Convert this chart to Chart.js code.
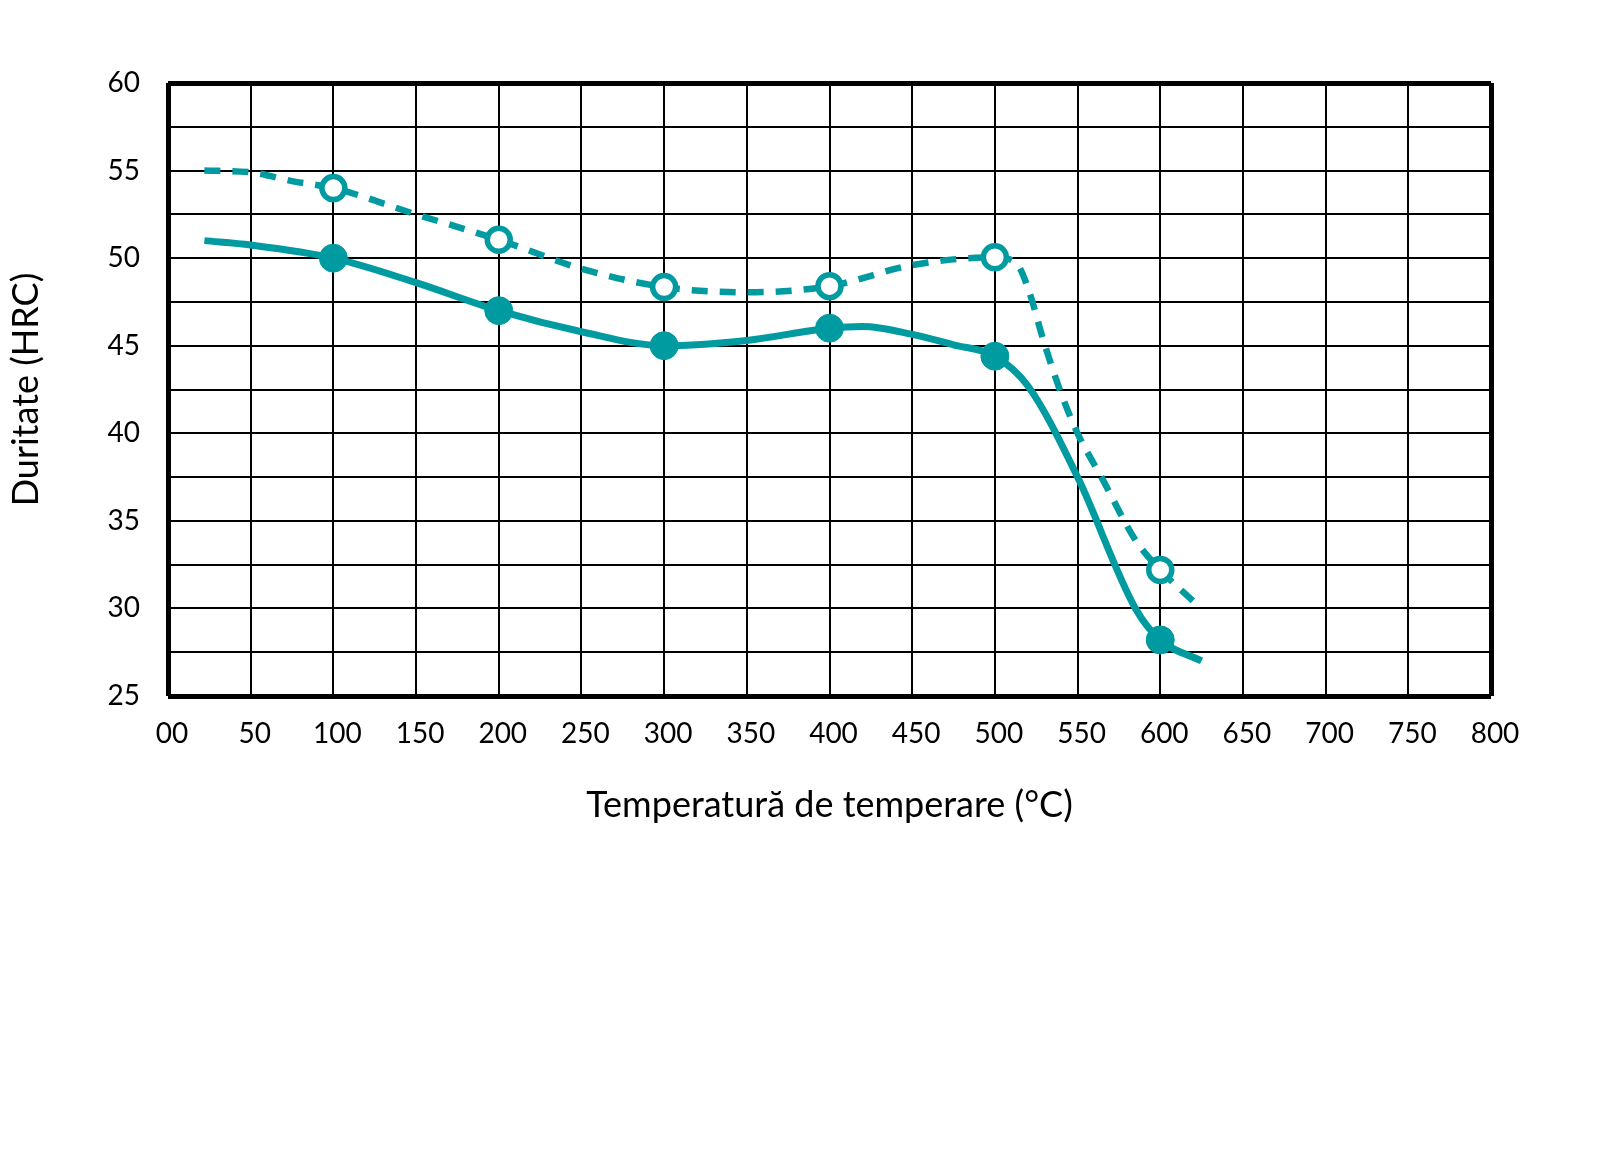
<!DOCTYPE html>
<html>
<head>
<meta charset="utf-8">
<script src="https://cdn.jsdelivr.net/npm/chart.js@4/dist/chart.umd.min.js"></script>
<style>
  html, body { margin: 0; padding: 0; background: #ffffff; }
  #wrap { width: 1621px; height: 1171px; position: relative; }
</style>
</head>
<body>
<div id="wrap"><canvas id="c"></canvas></div>
<script>
// Values
const solidTemps = [22, 50, 100, 150, 200, 250, 300, 350, 400, 420, 450, 475, 500, 520, 550, 585, 600, 625];
const solidHRC   = [51.0, 50.75, 50.0, 48.6, 47.0, 45.8, 45.0, 45.3, 46.0, 46.1, 45.65, 45.05, 44.4, 42.7, 37.5, 30.0, 28.2, 27.0];

const dashedTemps = [22, 50, 75, 100, 150, 200, 250, 300, 350, 400, 450, 500, 513, 520, 530, 540, 550, 565, 585, 600, 620];
const dashedHRC   = [55.0, 54.9, 54.4, 54.0, 52.5, 51.05, 49.4, 48.35, 48.05, 48.4, 49.6, 50.05, 49.7, 48.3, 45.1, 42.3, 40.0, 37.4, 33.9, 32.2, 30.4];

const markerTemps = [100, 200, 300, 400, 500, 600];

const xTickMin = 0, xTickMax = 800, xTickStep = 50;
const yTickMin = 25, yTickMax = 60, yTickStep = 2.5, yLabelStep = 5;

const xTitle = 'Temperatură de temperare (°C)';
const yTitle = 'Duritate (HRC)';

const TEAL = '#009ba1';
const FONT = 'Lato, "Open Sans", sans-serif';

function pts(xs, ys) { return xs.map((x, i) => ({ x: x, y: ys[i] })); }
function isMarker(ctx) {
  const raw = ctx.raw;
  return raw && markerTemps.includes(raw.x);
}

const chart = new Chart(document.getElementById('c'), {
  type: 'line',
  data: {
    datasets: [
      {
        label: 'dashed',
        data: pts(dashedTemps, dashedHRC),
        borderColor: TEAL,
        borderWidth: 6.5,
        borderDash: [16, 12],
        borderCapStyle: 'butt',
        cubicInterpolationMode: 'monotone',
        fill: false,
        pointRadius: ctx => isMarker(ctx) ? 11.5 : 0,
        pointBorderWidth: 5.5,
        pointBorderColor: TEAL,
        pointBackgroundColor: '#ffffff',
        pointHoverRadius: 0
      },
      {
        label: 'solid',
        data: pts(solidTemps, solidHRC),
        borderColor: TEAL,
        borderWidth: 7,
        cubicInterpolationMode: 'monotone',
        fill: false,
        pointRadius: ctx => isMarker(ctx) ? 14 : 0,
        pointBorderWidth: 1,
        pointBorderColor: TEAL,
        pointBackgroundColor: TEAL,
        pointHoverRadius: 0
      }
    ]
  },
  options: {
    responsive: true,
    maintainAspectRatio: false,
    animation: false,
    events: [],
    layout: { padding: { left: 0, top: 83, right: 130, bottom: 344 } },
    plugins: { legend: { display: false }, tooltip: { enabled: false } },
    scales: {
      x: {
        type: 'linear',
        min: xTickMin, max: xTickMax,
        afterFit: s => { s.height = 131; },
        border: { display: false },
        grid: {
          color: '#000',
          drawTicks: false,
          lineWidth: ctx => (ctx.tick && (ctx.tick.value === xTickMin || ctx.tick.value === xTickMax)) ? 5 : 2
        },
        ticks: {
          stepSize: xTickStep,
          autoSkip: false,
          maxRotation: 0,
          padding: 21,
          labelOffset: 4,
          color: '#000',
          font: { family: FONT, size: 28 },
          callback: v => v === 0 ? '00' : String(v)
        },
        title: {
          display: true,
          text: xTitle,
          color: '#000',
          font: { family: FONT, size: 36 },
          padding: { top: 0, bottom: 0 }
        }
      },
      y: {
        type: 'linear',
        min: yTickMin, max: yTickMax,
        afterFit: s => { s.width = 168; },
        border: { display: false },
        grid: {
          color: '#000',
          drawTicks: false,
          lineWidth: ctx => (ctx.tick && (ctx.tick.value === yTickMin || ctx.tick.value === yTickMax)) ? 5 : 2
        },
        ticks: {
          stepSize: yTickStep,
          autoSkip: false,
          maxTicksLimit: 100,
          padding: 28,
          color: '#000',
          font: { family: FONT, size: 28 },
          callback: v => (Math.abs(v % yLabelStep) < 1e-9) ? String(v) : ''
        },
        title: {
          display: true,
          text: yTitle,
          color: '#000',
          font: { family: FONT, size: 36 },
          padding: { top: 5, bottom: 0 }
        }
      }
    }
  }
});
</script>
</body>
</html>
